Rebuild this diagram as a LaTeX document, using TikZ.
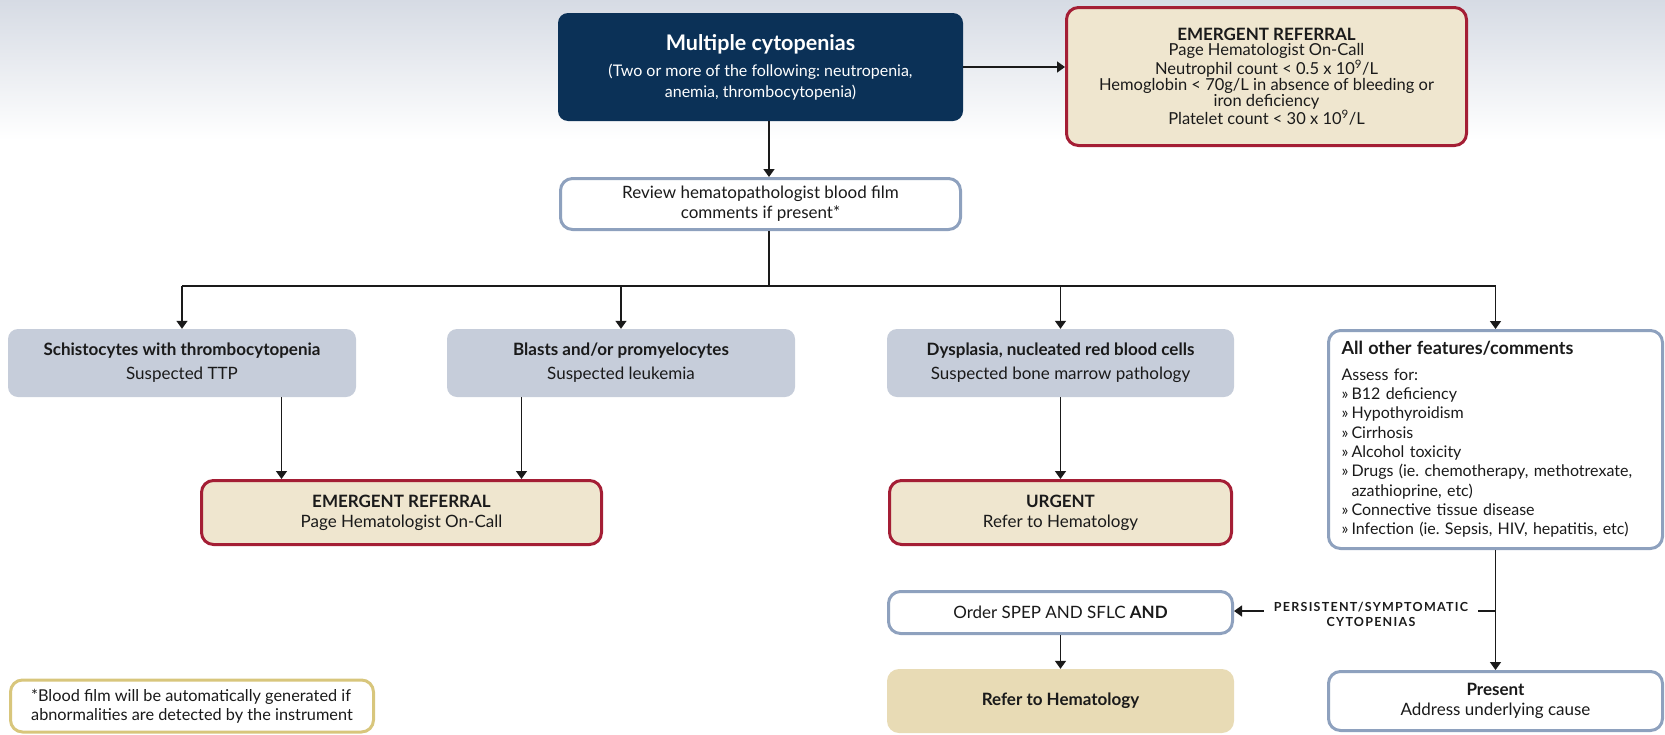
\documentclass[tikz,border=0pt]{standalone}
\usepackage{fontspec}
\setmainfont{Lato}
\usetikzlibrary{arrows.meta}
\definecolor{navy}{HTML}{0B3157}
\definecolor{wine}{HTML}{A41E35}
\definecolor{cream}{HTML}{EFE6CF}
\definecolor{sand}{HTML}{E8DBB5}
\definecolor{slate}{HTML}{C6CDDA}
\definecolor{steel}{HTML}{8EA1BE}
\definecolor{gold}{HTML}{D8C67C}
\definecolor{haze}{HTML}{D6DBE4}
\definecolor{ink}{HTML}{1A1A1A}
\tikzstyle{box}   = [rectangle, align=center, text=ink, inner sep=4pt, font=\fontsize{17}{20}\selectfont]
\tikzstyle{cnavy} = [box, fill=navy, text=white, rounded corners=10pt]
\tikzstyle{cred}  = [box, fill=cream, draw=wine, line width=3pt, rounded corners=12pt]
\tikzstyle{cgray} = [box, fill=slate, rounded corners=10pt, font=\fontsize{17}{24}\selectfont]
\tikzstyle{cblue} = [box, fill=white, draw=steel, line width=3pt, rounded corners=12pt]
\tikzstyle{csand} = [box, fill=sand, rounded corners=12pt]
\tikzstyle{cgold} = [box, fill=white, draw=gold, line width=3pt, rounded corners=12pt]
\tikzstyle{arr}   = [-{Triangle[width=11pt,length=8pt]}, line width=1.5pt, draw=ink]
\tikzstyle{wire}  = [line width=1.5pt, draw=ink]
\def\hd#1{{\bfseries #1}}
\def\itm{\makebox[10pt][l]{»}}

\begin{document}
\frenchspacing
\begin{tikzpicture}[x=1pt,y=-1pt]
    \useasboundingbox (0,0) rectangle (1665,734);
    \shade[top color=haze, bottom color=white] (0,0) rectangle (1665,140);
    \node[cnavy, minimum width=405pt, minimum height=108pt, font=\fontsize{16}{21}\selectfont] (multi) at (760.5,67)
      {{\fontsize{21.5}{24}\selectfont\bfseries Multiple cytopenias}\\[5pt] (Two or more of the following: neutropenia,\\ anemia, thrombocytopenia)};
    \node[cred, minimum width=400pt, minimum height=138pt, font=\fontsize{16.5}{15.8}\selectfont] (emerg1) at (1266.5,76.5)
      {{\fontsize{17}{15.8}\selectfont\bfseries EMERGENT REFERRAL}\\ Page Hematologist On-Call\\ Neutrophil count < 0.5 x 10\textsuperscript{9}/L\\
       Hemoglobin < 70g/L in absence of bleeding or\\ iron deficiency\\ Platelet count < 30 x 10\textsuperscript{9}/L};
    \node[cblue, minimum width=400pt, minimum height=51pt] (review) at (760.5,204)
      {Review hematopathologist blood film\\ comments if present*};
    \node[cgray, minimum width=348pt, minimum height=68pt] (schisto) at (182,363)
      {\hd{Schistocytes with thrombocytopenia}\\ Suspected TTP};
    \node[cgray, minimum width=348pt, minimum height=68pt] (blasts) at (621,363)
      {\hd{Blasts and/or promyelocytes}\\ Suspected leukemia};
    \node[cgray, minimum width=347pt, minimum height=68pt] (dysp) at (1060.5,363)
      {\hd{Dysplasia, nucleated red blood cells}\\ Suspected bone marrow pathology};
    \node[cblue, text width=308pt, inner xsep=13pt, minimum height=218pt, align=left, font=\fontsize{16}{19.3}\selectfont] (other) at (1495.5,439.5)
      {{\fontsize{18}{19.3}\selectfont\bfseries All other features/comments}\\[6pt] Assess for:\\ \itm B12 deficiency\\ \itm Hypothyroidism\\ \itm Cirrhosis\\
       \itm Alcohol toxicity\\ \itm Drugs (ie. chemotherapy, methotrexate,\\ \hspace*{10pt}azathioprine, etc)\\
       \itm Connective tissue disease\\ \itm Infection (ie. Sepsis, HIV, hepatitis, etc)};
    \node[cred, minimum width=400pt, minimum height=64pt] (emerg2) at (401.5,512.5)
      {\hd{EMERGENT REFERRAL}\\ Page Hematologist On-Call};
    \node[cred, minimum width=342pt, minimum height=64pt] (urgent) at (1060.5,512.5)
      {\hd{URGENT}\\ Refer to Hematology};
    \node[cblue, minimum width=344pt, minimum height=42pt] (order) at (1060.5,612.5)
      {Order SPEP AND SFLC \hd{AND}};
    \node[csand, minimum width=347pt, minimum height=64pt] (refer) at (1060.5,701)
      {\hd{Refer to Hematology}};
    \node[cblue, minimum width=334pt, minimum height=59pt] (present) at (1495.5,701)
      {\hd{Present}\\ Address underlying cause};
    \node[cgold, minimum width=363pt, minimum height=52pt, align=left, font=\fontsize{16.3}{19}\selectfont] (foot) at (192,706)
      {*Blood film will be automatically generated if\\ abnormalities are detected by the instrument};
    \node[text=ink, align=center, inner xsep=10pt, font=\fontsize{12.5}{15}\selectfont\bfseries\addfontfeature{LetterSpace=10}] (plabel) at (1371,614.5)
      {PERSISTENT/SYMPTOMATIC\\ CYTOPENIAS};
    \coordinate (split) at (769,286);
    \coordinate (persist) at (other.south |- 0,611);
    \coordinate (e2l) at ([xshift=-120pt]emerg2.north);
    \coordinate (e2r) at ([xshift=120pt]emerg2.north);
    \draw[arr] (multi.east) -- (multi.east -| emerg1.west);
    \draw[arr] (multi.south -| split) -- (review.north -| split);
    \draw[wire] (review.south -| split) -- (split);
    \draw[wire] (schisto.north |- split) -- (other.north |- split);
    \foreach \n in {schisto,blasts,dysp,other}
      \draw[arr] (\n.north |- split) -- (\n.north);
    \draw[arr] (e2l |- schisto.south) -- (e2l);
    \draw[arr] (e2r |- blasts.south) -- (e2r);
    \draw[arr] (dysp) -- (urgent);
    \draw[arr] (other) -- (present);
    \draw[wire] (persist) -- (plabel.east |- persist);
    \draw[arr] (plabel.west |- persist) -- (order.east |- persist);
    \draw[arr] (order) -- (refer);
\end{tikzpicture}
\end{document}
